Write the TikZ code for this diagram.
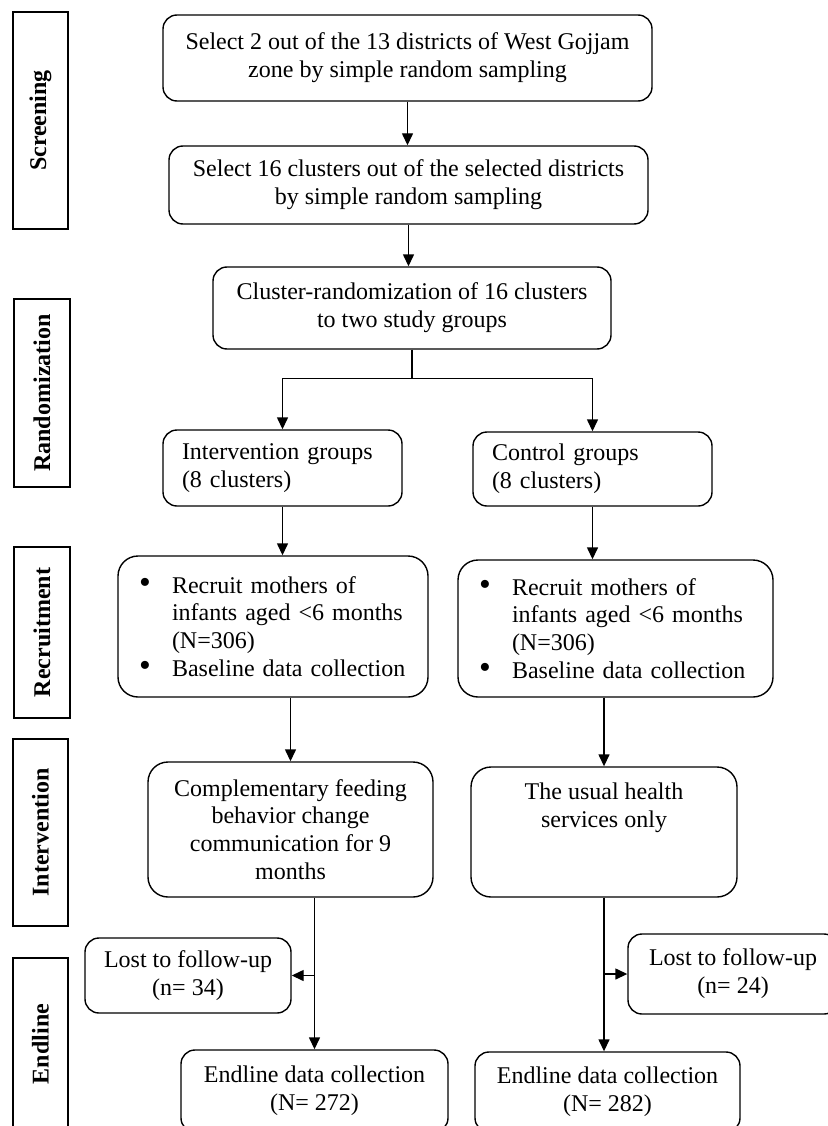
\documentclass[tikz,border=0pt]{standalone}
\usepackage{fontspec}
\setmainfont{Liberation Serif}
\usetikzlibrary{arrows.meta}
\tikzset{
  every picture/.style={x=1pt,y=-1pt},
  box/.style={draw, line width=1.4pt, rounded corners=14pt, inner sep=0pt, align=center,
    font=\fontsize{24}{28}\selectfont},
  lbox/.style={draw, line width=1.4pt, inner sep=0pt, rotate=90,
    font=\fontsize{24}{28}\selectfont\bfseries},
  arr/.style={line width=1.4pt, -{Triangle[length=12pt,width=11pt]}},
  ln/.style={line width=1.4pt}
}
\newcommand{\bl}{\makebox[33pt][l]{\raisebox{-0.5pt}{\scalebox{1.4}{\textbullet}}}}
\newcommand{\nb}{\hspace*{33pt}}
\begin{document}
\begin{tikzpicture}
\useasboundingbox (0,0) rectangle (827,1126);
% stage labels
\node[lbox, minimum width=217pt, minimum height=55pt] (lscr) at (40.5,120.5) {Screening};
\node[lbox, minimum width=188pt, minimum height=56pt] (lran) at (42,393) {Randomization};
\node[lbox, minimum width=171pt, minimum height=56pt] (lrec) at (42,632.5) {Recruitment};
\node[lbox, minimum width=187pt, minimum height=55pt] (lint) at (40.5,832.5) {Intervention};
\node[lbox, minimum width=172pt, minimum height=55pt] (lend) at (40.5,1044) {Endline};
% boxes
\node[box, minimum width=489pt, minimum height=86pt] (top) at (407.5,58)
  {Select 2 out of the 13 districts of West Gojjam\\zone by simple random sampling};
\node[box, minimum width=479pt, minimum height=78pt] (sel) at (408.5,185)
  {Select 16 clusters out of the selected districts\\by simple random sampling};
\node[box, minimum width=398pt, minimum height=82pt] (rand) at (412,308)
  {Cluster-randomization of 16 clusters\\to two study groups};
\node[box, minimum width=239pt, minimum height=76pt, align=left, text width=201pt, inner xsep=19pt] (ig) at (282.5,468)
  {Intervention groups\\(8 clusters)};
\node[box, minimum width=239pt, minimum height=74pt, align=left, text width=201pt, inner xsep=19pt] (cg) at (592.5,469)
  {Control groups\\(8 clusters)};
\node[box, rounded corners=20pt, minimum width=310pt, minimum height=141pt, align=left, text width=284pt, inner xsep=13pt, font=\fontsize{24}{27.7}\selectfont] (rl) at (273,626.5)
  {\hspace*{8pt}\bl Recruit mothers of\\\hspace*{8pt}\nb infants aged <6 months\\\hspace*{8pt}\nb (N=306)\\\hspace*{8pt}\bl Baseline data collection};
\node[box, rounded corners=20pt, minimum width=315pt, minimum height=137pt, align=left, text width=289pt, inner xsep=13pt, font=\fontsize{24}{27.7}\selectfont] (rr) at (615.5,628.5)
  {\hspace*{8pt}\bl Recruit mothers of\\\hspace*{8pt}\nb infants aged <6 months\\\hspace*{8pt}\nb (N=306)\\\hspace*{8pt}\bl Baseline data collection};
\node[box, rounded corners=20pt, minimum width=285pt, minimum height=135pt, font=\fontsize{24}{27.7}\selectfont] (comp) at (290.5,829.5)
  {Complementary feeding\\behavior change\\communication for 9\\months};
\node[box, rounded corners=20pt, minimum width=266pt, minimum height=130pt, font=\fontsize{24}{27.7}\selectfont] (usual) at (604,832)
  {The usual health\\services only\\[-10pt]\strut\\\strut};
\node[box, minimum width=206pt, minimum height=75pt] (lostl) at (188,975.5)
  {Lost to follow-up\\(n= 34)};
\node[box, minimum width=210pt, minimum height=80pt] (lostr) at (733,974)
  {Lost to follow-up\\(n= 24)};
\node[box, minimum width=267pt, minimum height=82pt] (endl) at (314.5,1091)
  {Endline data collection\\(N= 272)};
\node[box, minimum width=265pt, minimum height=80pt] (endr) at (607.5,1092)
  {Endline data collection\\(N= 282)};
% connectors
\draw[arr] (top.south) -- (top.south |- sel.north);
\draw[arr] (sel.south) -- (sel.south |- rand.north);
\draw[ln] (rand.south) -- ++(0,29) coordinate (split);
\draw[arr] (split) -| (ig.north);
\draw[arr] (split) -| (cg.north);
\draw[arr] (ig.south) -- (ig.south |- rl.north);
\draw[arr] (cg.south) -- (cg.south |- rr.north);
\draw[arr] (comp.north |- rl.south) -- (comp.north);
\draw[arr] (usual.north |- rr.south) -- (usual.north);
\draw[arr] (endl.north |- comp.south) -- (endl.north);
\draw[arr] (endl.north |- lostl.east) -- (lostl.east);
\draw[arr] (usual.south) -- (usual.south |- endr.north);
\draw[arr] (usual.south |- lostr.west) -- (lostr.west);
\end{tikzpicture}
\end{document}
